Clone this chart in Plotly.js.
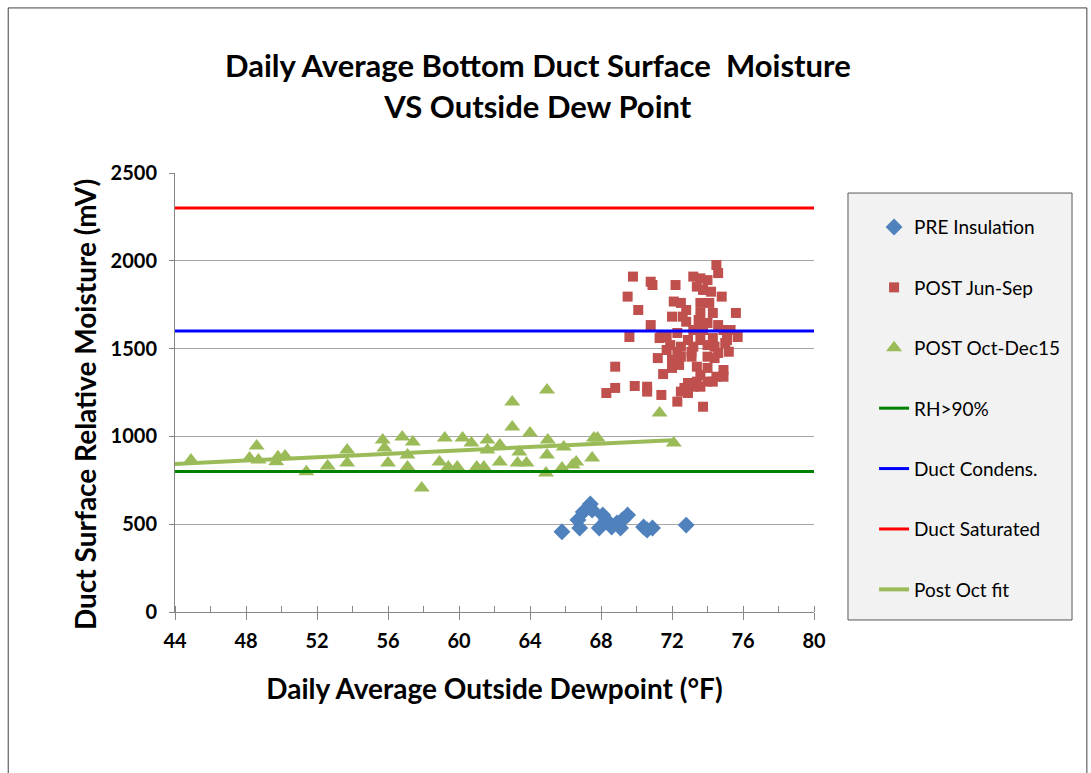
<!DOCTYPE html>
<html>
<head>
<meta charset="utf-8">
<script src="https://cdn.plot.ly/plotly-3.0.1.min.js"></script>
<style>html,body{margin:0;padding:0;background:#fff;}#chart{width:1091px;height:773px;}</style>
</head>
<body>
<div id="chart"></div>
<script>
// PRE Insulation (blue diamonds)
const preX = [65.8, 66.7, 66.8, 67.4, 67.0, 67.5, 68.1, 67.9, 68.3, 68.6, 68.9, 69.1, 69.5, 69.2, 70.4, 70.6, 70.9, 72.8];
const preY = [457, 524, 478, 615, 570, 581, 552, 478, 524, 484, 507, 478, 552, 524, 484, 467, 478, 495];

// POST Jun-Sep (red squares)
const junX = [69.8, 70.8, 70.9, 69.5, 70.1, 70.8, 69.6, 68.8, 68.3, 68.8, 69.9, 70.6, 70.6, 71.4, 71.2, 71.5, 71.3, 72.0, 72.2, 72.3,
              73.75, 74.5, 74.6, 73.2, 73.6, 74.0, 73.4, 73.75, 74.2, 74.8, 72.1, 72.5, 73.6, 74.1, 72.8, 72.6, 73.6, 74.3, 75.6, 72.8,
              73.5, 74.0, 74.6, 73.2, 73.75, 74.9, 75.3, 72.3, 71.7, 71.4, 75.7, 72.9, 73.6, 74.3, 75.1, 71.9, 72.5, 73.2, 74.0, 74.4,
              75.0, 71.7, 72.3, 73.1, 74.6, 75.2, 72.0, 72.5, 73.1, 74.0, 74.4, 72.4, 73.4, 74.0, 74.9, 72.0, 73.6, 74.5, 74.9, 72.9,
              73.4, 74.0, 74.3, 72.7, 73.2, 73.6, 72.5, 72.9];
const junY = [1910, 1881, 1862, 1796, 1720, 1634, 1566, 1397, 1247, 1276, 1287, 1283, 1255, 1236, 1446, 1355, 1560, 1682, 1862, 1198,
              1169, 1976, 1930, 1910, 1900, 1890, 1853, 1834, 1824, 1796, 1768, 1760, 1760, 1760, 1720, 1682, 1703, 1703, 1703, 1653,
              1663, 1646, 1634, 1606, 1606, 1606, 1606, 1589, 1566, 1566, 1566, 1549, 1549, 1560, 1549, 1520, 1511, 1511, 1520, 1511,
              1532, 1492, 1482, 1482, 1475, 1482, 1435, 1454, 1454, 1454, 1446, 1407, 1397, 1390, 1378, 1390, 1350, 1340, 1340, 1304,
              1312, 1312, 1312, 1276, 1283, 1283, 1255, 1247];

// POST Oct-Dec15 (green triangles)
const octX = [44.9, 48.6, 48.2, 48.7, 49.8, 50.2, 49.7, 51.4, 52.6, 53.7, 53.7, 55.7, 55.8, 56.0, 56.8, 57.4, 57.1, 57.1, 57.9, 59.2,
              58.9, 59.4, 59.9, 60.2, 60.7, 61.0, 61.4, 61.6, 61.6, 62.3, 62.3, 63.0, 63.0, 64.0, 63.4, 63.3, 63.8, 64.96, 65.0, 64.96,
              64.9, 65.9, 65.8, 66.4, 66.6, 67.6, 67.8, 67.5, 71.3, 72.1];
const octY = [866, 945, 877, 866, 884, 888, 856, 799, 831, 922, 849, 980, 934, 849, 997, 968, 894, 826, 706, 991,
              854, 826, 826, 991, 962, 826, 826, 980, 922, 951, 854, 1196, 1054, 1019, 911, 849, 849, 1264, 980, 894,
              792, 940, 820, 837, 854, 991, 991, 877, 1133, 962];

// Reference levels
const levelX = [44, 80];
const rhY = [800, 800];
const condY = [1600, 1600];
const satY = [2300, 2300];

// Post Oct fit
const fitX = [44, 72];
const fitY = [843, 978];

const xTicks = [44, 48, 52, 56, 60, 64, 68, 72, 76, 80];
const yTicks = [0, 500, 1000, 1500, 2000, 2500];

const FONT = 'Lato, "Open Sans", sans-serif';

const traces = [
  {name: 'PRE Insulation', x: preX, y: preY, type: 'scatter', mode: 'markers', legendgroup: 'a',
   marker: {symbol: 'diamond', size: 13, color: '#4f81bd'}},
  {name: 'POST Jun-Sep', x: junX, y: junY, type: 'scatter', mode: 'markers', legendgroup: 'b',
   marker: {symbol: 'square', size: 10, color: '#c0504d'}},
  {name: 'POST Oct-Dec15', x: octX, y: octY, type: 'scatter', mode: 'markers', legendgroup: 'c',
   marker: {symbol: 'triangle-up', size: 14, color: '#9bbb59'}},
  {name: 'RH>90%', x: levelX, y: rhY, type: 'scatter', mode: 'lines', legendgroup: 'd',
   line: {color: '#008000', width: 3}},
  {name: 'Duct Condens.', x: levelX, y: condY, type: 'scatter', mode: 'lines', legendgroup: 'e',
   line: {color: '#0000ff', width: 3}},
  {name: 'Duct Saturated', x: levelX, y: satY, type: 'scatter', mode: 'lines', legendgroup: 'f',
   line: {color: '#ff0000', width: 3}},
  {name: 'Post Oct fit', x: fitX, y: fitY, type: 'scatter', mode: 'lines', legendgroup: 'g',
   line: {color: '#9bbb59', width: 4}}
];

const layout = {
  width: 1091, height: 773,
  margin: {l: 175, r: 277, t: 173, b: 161},
  paper_bgcolor: '#ffffff', plot_bgcolor: '#ffffff',
  font: {family: FONT, color: '#000'},
  showlegend: true,
  title: {
    text: 'Daily Average Bottom Duct Surface  Moisture<br>VS Outside Dew Point',
    font: {family: FONT, size: 31, weight: 'bold', color: '#000'},
    x: 0.493, xref: 'container', xanchor: 'center',
    y: 0.900, yref: 'container', yanchor: 'middle'
  },
  xaxis: {
    range: [44, 80], tickvals: xTicks, ticktext: xTicks.map(String),
    showgrid: false, zeroline: false,
    showline: true, linecolor: '#868686', linewidth: 1,
    ticks: 'outside', ticklen: 7, tickcolor: '#868686',
    ticklabelstandoff: 4,
    minor: {dtick: 2, ticks: 'inside', ticklen: 6, tickcolor: '#868686', showgrid: false},
    tickfont: {family: FONT, size: 20, weight: 'bold', color: '#000'},
    title: {text: 'Daily Average Outside Dewpoint (°F)', font: {family: FONT, size: 28, weight: 'bold', color: '#000'}, standoff: 28},
    fixedrange: true
  },
  yaxis: {
    range: [0, 2500], tickvals: yTicks, ticktext: yTicks.map(String),
    showgrid: true, gridcolor: '#a6a6a6', gridwidth: 1,
    zeroline: false,
    showline: true, linecolor: '#868686', linewidth: 1,
    ticks: 'outside', ticklen: 5, tickcolor: '#868686',
    ticklabelstandoff: 8,
    tickfont: {family: FONT, size: 20, weight: 'bold', color: '#000'},
    fixedrange: true
  },
  annotations: [
    {text: 'Duct Surface Relative Moisture (mV)', textangle: -90,
     xref: 'paper', yref: 'paper', x: -0.1408, y: 0.4715, xanchor: 'center', yanchor: 'middle',
     showarrow: false, font: {family: FONT, size: 28, weight: 'bold', color: '#000'}}
  ],
  legend: {
    x: 1.094, xanchor: 'left', y: 0.92, yanchor: 'top',
    bgcolor: 'rgba(0,0,0,0)', borderwidth: 0,
    traceorder: 'grouped', tracegroupgap: 32.7,
    font: {family: FONT, size: 19, color: '#000'},
    itemclick: false, itemdoubleclick: false
  },
  shapes: [
    {type: 'rect', xref: 'paper', yref: 'paper', x0: 1.0532, x1: 1.4038, y0: -0.0182, y1: 0.9544,
     fillcolor: '#f2f2f2', line: {color: '#595959', width: 1}, layer: 'below'},
    {type: 'rect', xref: 'paper', yref: 'paper', x0: -0.261, x1: 1.427, y0: -0.5, y1: 1.376,
     fillcolor: 'rgba(0,0,0,0)', line: {color: '#404040', width: 1}, layer: 'below'}
  ]
};

Plotly.newPlot('chart', traces, layout, {displayModeBar: false, staticPlot: true});
</script>
</body>
</html>
